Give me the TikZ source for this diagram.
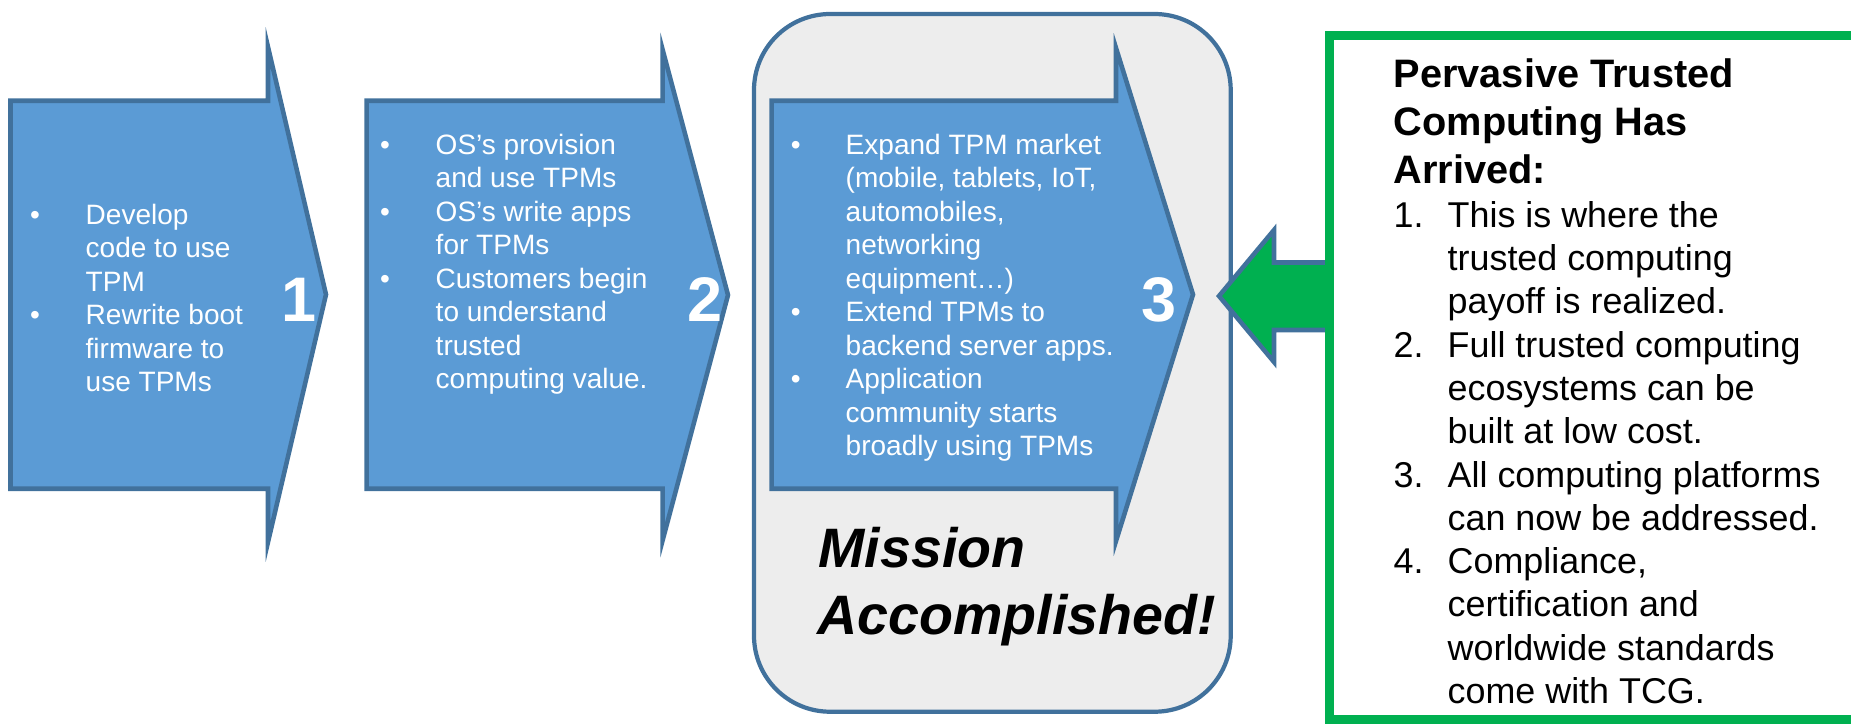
\documentclass[tikz,border=0pt]{standalone}
\usepackage{fontspec}
\setmainfont{Liberation Sans}
\usepackage{tikz}

\definecolor{stepblue}{HTML}{5B9BD5}
\definecolor{edgeblue}{HTML}{41719C}
\definecolor{panelgray}{HTML}{EDEDED}
\definecolor{tcggreen}{HTML}{00B050}

\begin{document}
\begin{tikzpicture}[x=0.01cm, y=-0.01cm,
  stepshape/.style={fill=stepblue, draw=edgeblue, line width=1.3pt, line join=miter},
  wtxt/.style={anchor=base west, inner sep=0pt, text=white, font=\fontsize{7.97}{9.5}\selectfont},
  bul/.style={anchor=base, inner sep=0pt, text=white, font=\fontsize{7.97}{9.5}\selectfont},
  digit/.style={anchor=base, inner sep=0pt, text=white, font=\fontsize{17.9}{21}\selectfont\bfseries},
  ttl/.style={anchor=base west, inner sep=0pt, font=\fontsize{11.3}{13}\selectfont\bfseries},
  btxt/.style={anchor=base west, inner sep=0pt, font=\fontsize{10.2}{12}\selectfont},
  mis/.style={anchor=base west, inner sep=0pt, font=\fontsize{15.8}{18}\selectfont\bfseries\itshape}]

  \useasboundingbox (0,0) rectangle (1851,723);
  \clip (0,0) rectangle (1851,723);

  % Panel behind step 3
  \draw[fill=panelgray, draw=edgeblue, line width=1.2pt, rounded corners=0.76cm]
    (754,14) rectangle (1230.7,711.7);

  % Step arrows
  \draw[stepshape] (10.5,100.7) -- (268,100.7) -- (268,47) -- (326,294.5)
    -- (268,542) -- (268,488.7) -- (10.5,488.7) -- cycle;
  \draw[stepshape] (366.7,100.7) -- (662.7,100.7) -- (662.7,50) -- (728,295)
    -- (662.7,540) -- (662.7,488.7) -- (366.7,488.7) -- cycle;
  \draw[stepshape] (771.7,100.7) -- (1116,100.7) -- (1116,48) -- (1193,294.5)
    -- (1116,541) -- (1116,488.7) -- (771.7,488.7) -- cycle;

  % Green arrow and box
  \draw[fill=tcggreen, draw=edgeblue, line width=1.3pt, line join=miter]
    (1329,262.5) -- (1274,262.5) -- (1274,230) -- (1219,296) -- (1274,362)
    -- (1274,330) -- (1329,330) -- cycle;
  \draw[draw=tcggreen, line width=2.56pt] (1329.3,35) rectangle (1900,719.3);

  % Step 1
  \node[bul] (oneb1) at (35,224) {\textbullet};
  \node[bul] (oneb2) at (35,324.5) {\textbullet};
  \node[wtxt] (one1) at (85,224) {Develop};
  \node[wtxt] (one2) at (85,257.5) {code to use};
  \node[wtxt] (one3) at (85,291) {TPM};
  \node[wtxt] (one4) at (85,324.5) {Rewrite boot};
  \node[wtxt] (one5) at (85,358) {firmware to};
  \node[wtxt] (one6) at (85,391.5) {use TPMs};
  \node[digit] (n1) at (299,321) {1};

  % Step 2
  \node[bul] (twob1) at (385,154) {\textbullet};
  \node[bul] (twob2) at (385,221) {\textbullet};
  \node[bul] (twob3) at (385,288) {\textbullet};
  \node[wtxt] (two1) at (435,154) {OS’s provision};
  \node[wtxt] (two2) at (435,187.5) {and use TPMs};
  \node[wtxt] (two3) at (435,221) {OS’s write apps};
  \node[wtxt] (two4) at (435,254.5) {for TPMs};
  \node[wtxt] (two5) at (435,288) {Customers begin};
  \node[wtxt] (two6) at (435,321.5) {to understand};
  \node[wtxt] (two7) at (435,355) {trusted};
  \node[wtxt] (two8) at (435,388.5) {computing value.};
  \node[digit] (n2) at (705,321) {2};

  % Step 3
  \node[bul] (threeb1) at (795.7,154) {\textbullet};
  \node[bul] (threeb2) at (795.7,321.5) {\textbullet};
  \node[bul] (threeb3) at (795.7,388.5) {\textbullet};
  \node[wtxt] (three1) at (845,154) {Expand TPM market};
  \node[wtxt] (three2) at (845,187.5) {(mobile, tablets, IoT,};
  \node[wtxt] (three3) at (845,221) {automobiles,};
  \node[wtxt] (three4) at (845,254.5) {networking};
  \node[wtxt] (three5) at (845,288) {equipment…)};
  \node[wtxt] (three6) at (845,321.5) {Extend TPMs to};
  \node[wtxt] (three7) at (845,355) {backend server apps.};
  \node[wtxt] (three8) at (845,388.5) {Application};
  \node[wtxt] (three9) at (845,422) {community starts};
  \node[wtxt] (three10) at (845,455.5) {broadly using TPMs};
  \node[digit] (n3) at (1159,321) {3};

  % Mission text
  \node[mis] (mis1) at (818,567) {Mission};
  \node[mis] (mis2) at (817,634) {Accomplished!};

  % Green box title
  \node[ttl] (ttl1) at (1393,87) {Pervasive Trusted};
  \node[ttl] (ttl2) at (1393,135) {Computing Has};
  \node[ttl] (ttl3) at (1393,183) {Arrived:};

  % Green box list
  \node[btxt] (num1) at (1393,227) {1.};
  \node[btxt] (num2) at (1393,357) {2.};
  \node[btxt] (num3) at (1393,487) {3.};
  \node[btxt] (num4) at (1393,573.5) {4.};
  \node[btxt] (li1) at (1447,227) {This is where the};
  \node[btxt] (li2) at (1447,270.3) {trusted computing};
  \node[btxt] (li3) at (1447,313.6) {payoff is realized.};
  \node[btxt] (li4) at (1447,357) {Full trusted computing};
  \node[btxt] (li5) at (1447,400.2) {ecosystems can be};
  \node[btxt] (li6) at (1447,443.5) {built at low cost.};
  \node[btxt] (li7) at (1447,487) {All computing platforms};
  \node[btxt] (li8) at (1447,530.2) {can now be addressed.};
  \node[btxt] (li9) at (1447,573.5) {Compliance,};
  \node[btxt] (li10) at (1447,616.8) {certification and};
  \node[btxt] (li11) at (1447,660) {worldwide standards};
  \node[btxt] (li12) at (1447,703.3) {come with TCG.};
\end{tikzpicture}
\end{document}
